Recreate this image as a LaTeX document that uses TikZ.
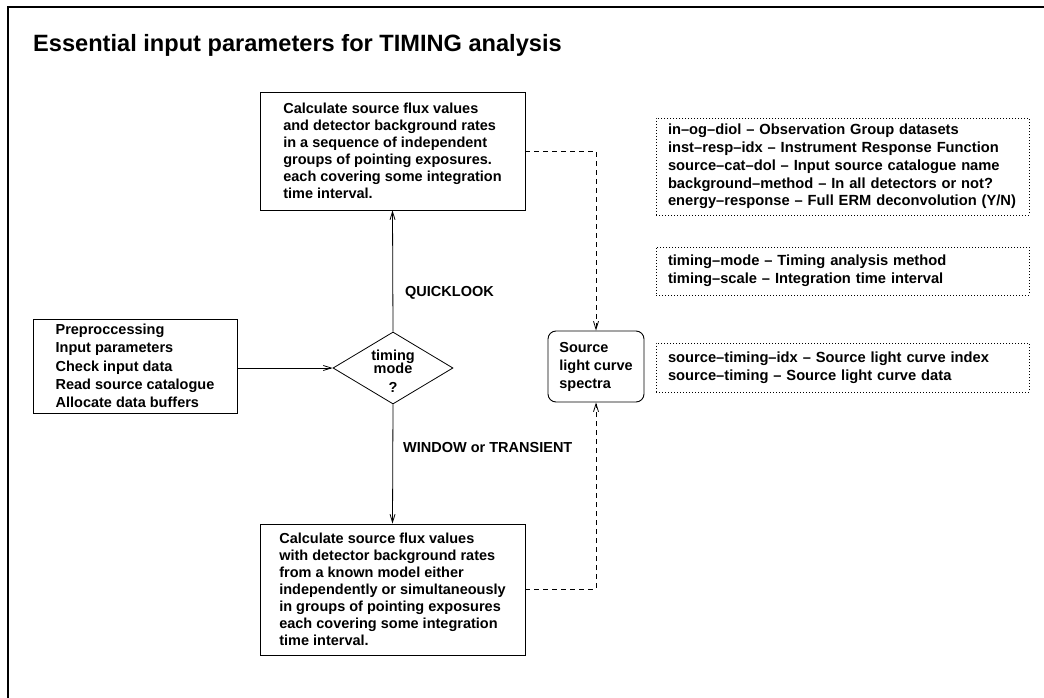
\documentclass[tikz,border=0pt]{standalone}
\usepackage{fontspec}
\setmainfont{Liberation Sans}
\usetikzlibrary{arrows.meta,shapes.geometric}
\begin{document}
\begin{tikzpicture}[x=1pt,y=-1pt,
  every node/.style={font=\fontsize{14.5}{17}\selectfont\bfseries},
  procbox/.style={draw,line width=0.9pt,rectangle,align=left,inner sep=0pt},
  parbox/.style={draw,line width=0.8pt,dash pattern=on 0.9pt off 2.1pt,rectangle,
    align=left,inner xsep=12pt,inner ysep=0pt,text width=349pt,minimum width=373pt,
    font=\fontsize{14.7}{17.8}\selectfont\bfseries},
  flow/.style={line width=0.8pt,-{Straight Barb[length=8pt,width=5pt]}},
  feed/.style={line width=0.8pt,dash pattern=on 5pt off 4pt,
    -{Straight Barb[length=8pt,width=5pt]}},
  tag/.style={anchor=base west,inner sep=0pt}
]
\useasboundingbox (0,0) rectangle (1044,698);
% open frame: top and left edges only
\draw[line width=1.4pt] (8,698) -- (8,7) -- (1044,7);

\node[anchor=base west,inner sep=0pt,font=\fontsize{23.6}{28}\selectfont\bfseries]
  (title) at (33,52) {Essential input parameters for TIMING analysis};

% processing steps
\node[procbox,minimum width=265pt,minimum height=118pt] (quick) at (392.5,151)
  {Calculate source flux values\\and detector background rates\\in a sequence of independent\\groups of pointing exposures.\\each covering some integration\\time interval.};
\node[procbox,minimum width=265pt,minimum height=131pt] (window) at (392.5,589.5)
  {Calculate source flux values\\with detector background rates\\from a known model either\\independently or simultaneously\\in groups of pointing exposures\\each covering some integration\\time interval.};
\node[procbox,minimum width=204pt,minimum height=94pt,
  font=\fontsize{14.5}{18.3}\selectfont\bfseries] (prep) at (135,366)
  {Preproccessing\\Input parameters\\Check input data\\Read source catalogue\\Allocate data buffers};

% decision
\node[draw,diamond,line width=0.8pt,minimum width=120pt,minimum height=72pt,inner sep=0pt]
  (mode) at (393,368) {};
\node[align=center,inner sep=0pt] (modetxt) at (393,371) {timing\\[-4pt]mode\\[2.5pt]?};

% output product
\node[procbox,rounded corners=8pt,minimum width=96pt,minimum height=71pt,
  font=\fontsize{14.5}{18}\selectfont\bfseries] (curve) at (596,366.5)
  {Source\\light curve\\spectra};

% parameter lists
\node[parbox,minimum height=97pt] (files) at (842.5,166.5)
  {in–og–diol – Observation Group datasets\\inst–resp–idx – Instrument Response Function\\source–cat–dol – Input source catalogue name\\background–method – In all detectors or not?\\energy–response – Full ERM deconvolution (Y/N)};
\node[parbox,minimum height=48pt] (timing) at (842.5,271)
  {timing–mode – Timing analysis method\\timing–scale – Integration time interval};
\node[parbox,minimum height=49pt] (results) at (842.5,367.5)
  {source–timing–idx – Source light curve index\\source–timing – Source light curve data};

% branch labels
\node[tag] (ql) at (405,296) {QUICKLOOK};
\node[tag] (wt) at (403,452) {WINDOW or TRANSIENT};

% connectors
\draw[flow] (prep.east |- mode.west) -- (mode.west);
\draw[flow] (mode.north) -- (quick.south);
\draw[flow] (mode.south) -- (window.north);
\draw[feed] (quick.east) -| (curve.north);
\draw[feed] (window.east) -| (curve.south);
\end{tikzpicture}
\end{document}
